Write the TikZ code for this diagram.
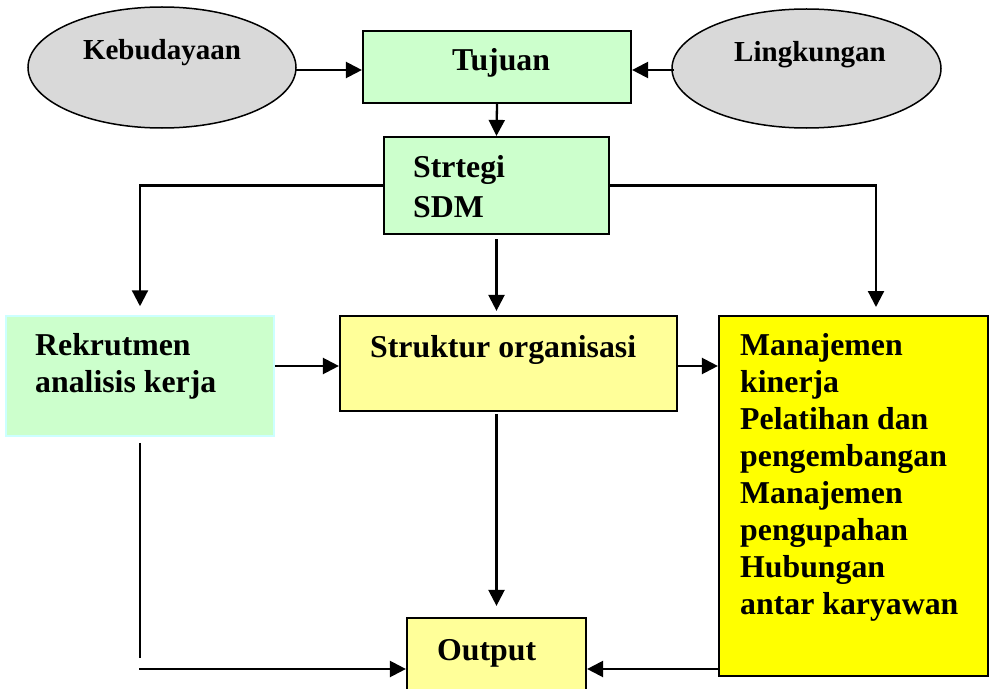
\documentclass[tikz,border=0pt]{standalone}
\usepackage{fontspec}
\setmainfont{Liberation Serif}
\usetikzlibrary{arrows.meta,shapes.geometric}
\definecolor{mintfill}{HTML}{CCFFCC}
\definecolor{paleyellow}{HTML}{FFFF99}
\definecolor{brightyellow}{HTML}{FFFF00}
\definecolor{ovalgray}{HTML}{D9D9D9}
\definecolor{palecyan}{HTML}{CCFFFF}

\begin{document}
\begin{tikzpicture}[x=1bp,y=-1bp,
  box/.style={draw=black,line width=2.2bp,rectangle,inner sep=0pt},
  oval/.style={draw=black,line width=1.5bp,fill=ovalgray,ellipse,inner sep=0pt},
  lbl/.style={anchor=base west,inner sep=0pt,font=\bfseries\fontsize{31.8bp}{37bp}\selectfont},
  ovallbl/.style={anchor=base,inner sep=0pt,font=\bfseries\fontsize{29bp}{34bp}\selectfont},
  link/.style={line width=2.3bp},
  arr/.style={link,-{Triangle[length=16bp,width=16bp]}}]

\useasboundingbox (0,0) rectangle (990,689);
\clip (0,0) rectangle (990,689);

% ovals on top
\node[oval,minimum width=268bp,minimum height=121bp] (keb) at (162,67.5) {};
\node[oval,minimum width=269bp,minimum height=119bp] (ling) at (806.5,68.5) {};
\node[ovallbl] (tkeb) at (162,60) {Kebudayaan};
\node[ovallbl] (tling) at (810,62) {Lingkungan};

% boxes
\node[box,fill=mintfill,minimum width=268bp,minimum height=72bp] (tuj) at (497,67) {};
\node[box,fill=mintfill,minimum width=225bp,minimum height=97bp] (str) at (496.5,185.5) {};
\node[box,draw=palecyan,line width=1.5bp,fill=mintfill,minimum width=268bp,minimum height=120bp] (rek) at (140,376) {};
\node[box,fill=paleyellow,minimum width=337bp,minimum height=95bp] (struk) at (508.5,363.5) {};
\node[box,fill=brightyellow,minimum width=269bp,minimum height=360bp] (man) at (853.5,496) {};
\node[box,fill=paleyellow,minimum width=179bp,minimum height=102bp] (out) at (496.5,669) {};

% box texts
\node[lbl] (ttuj) at (452,71) {Tujuan};
\node[lbl] (tstr1) at (413,178) {Strtegi};
\node[lbl] (tstr2) at (413,217) {SDM};
\node[lbl] (trek1) at (35,355) {Rekrutmen};
\node[lbl] (trek2) at (35,392) {analisis kerja};
\node[lbl] (tstruk) at (370,357) {Struktur organisasi};
\foreach \txt [count=\i from 0] in {Manajemen,kinerja,Pelatihan dan,pengembangan,Manajemen,pengupahan,Hubungan,antar karyawan}
  \node[lbl] (tman\i) at (740,355+37*\i) {\txt};
\node[lbl] (tout) at (437,660) {Output};

% connectors
\coordinate (kebout) at (296,70);
\coordinate (lingout) at (674,70);
\draw[arr] (kebout) -- (kebout -| tuj.west);
\draw[arr] (lingout) -- (lingout -| tuj.east);
\draw[arr] (tuj.south) -- (str.north);
\draw[arr,shorten >=9bp] (str.west) -| (rek.north);
\coordinate (mantop) at (876,316);
\draw[arr,shorten >=9bp] (str.east) -| (mantop);
\draw[arr,shorten <=4bp,shorten >=4bp] (str.south) -- (str.south |- struk.north);
\coordinate (midrow) at (0,366);
\draw[arr] (midrow -| rek.east) -- (midrow -| struk.west);
\draw[arr] (midrow -| struk.east) -- (midrow -| man.west);
\draw[arr,shorten <=2bp,shorten >=11bp] (out.north |- struk.south) -- (out.north);
\coordinate (lend) at (140,658);
\coordinate (lstart) at (139,669);
\draw[link,shorten <=6bp] (rek.south) -- (rek.south |- lend);
\draw[arr] (lstart) -- (out.west);
\draw[arr] (man.west |- out.east) -- (out.east);
\end{tikzpicture}
\end{document}
